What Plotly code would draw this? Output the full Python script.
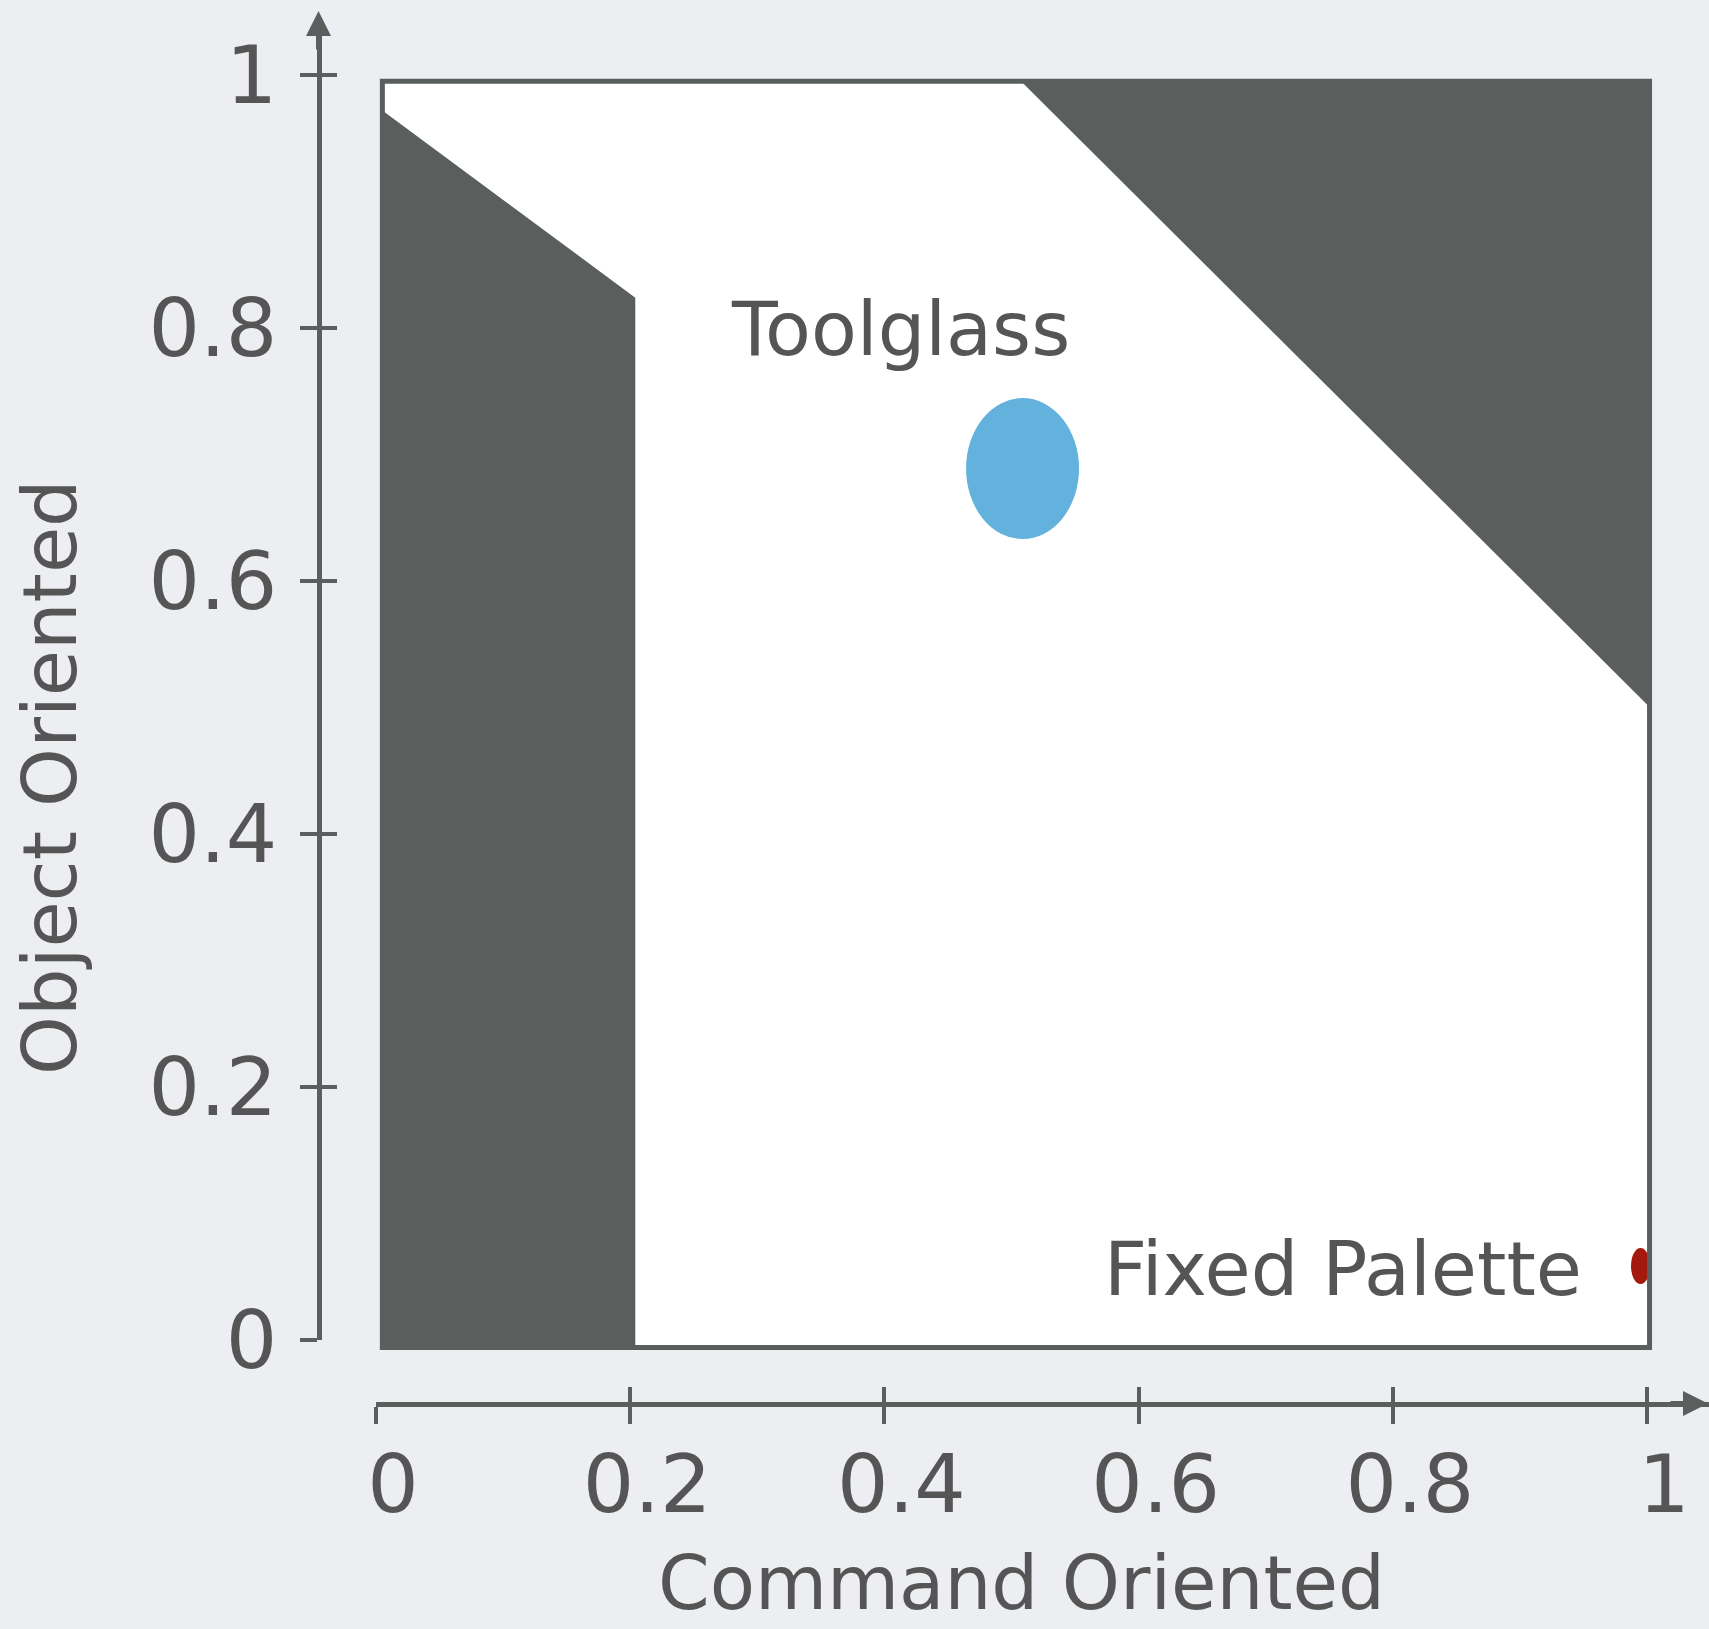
import plotly.graph_objects as go

# ---------------- data ----------------
# Design-space frame (Command Oriented on x, Object Oriented on y)
frame_x = [0.005, 1.002]
frame_y = [-0.006, 0.995]

# Dark "unreachable" regions
left_region_x = [0.005, 0.005, 0.204, 0.204]
left_region_y = [-0.006, 0.972, 0.824, -0.006]
top_region_x = [0.5075, 1.002, 1.002]
top_region_y = [0.995, 0.995, 0.5004]

# Techniques: centre and spread
techniques = ["Toolglass", "Fixed Palette"]
tech_x = [0.5087, 0.9949]
tech_y = [0.6889, 0.0585]
tech_spread_x = [0.0889, 0.0150]
tech_spread_y = [0.1115, 0.0285]

# Axis ticks
tick_vals = [0, 0.2, 0.4, 0.6, 0.8, 1]
tick_text = ["0", "0.2", "0.4", "0.6", "0.8", "1"]

x_title = "Command Oriented"
y_title = "Object Oriented"

# ---------------- styling / layout ----------------
W, H = 1709, 1629
X0_PX, X_SCALE = 376.0, 1271.0   # pixel of x=0, px per unit
Y0_PX, Y_SCALE = 1340.0, 1265.0  # pixel of y=0, px per unit

DARK = "#5a5e5d"
TEXT = "#555555"
BG = "#eceef1"
FONT = "DejaVu Sans"
tech_colors = ["#63b2dd", "#a31a0c"]
label_pos = [(0.4127, 0.7996), (0.7608, 0.0561)]


def px_to_paper_x(px):
    return px / W


def px_to_paper_y(py):
    return 1 - py / H


fig = go.Figure()

# dummy traces so the data subplot and the axis subplots exist
fig.add_trace(go.Scatter(x=[None], y=[None], showlegend=False, hoverinfo="skip"))
fig.add_trace(go.Scatter(x=[None], y=[None], xaxis="x2", yaxis="y2",
                         showlegend=False, hoverinfo="skip"))
fig.add_trace(go.Scatter(x=[None], y=[None], xaxis="x3", yaxis="y3",
                         showlegend=False, hoverinfo="skip"))


def poly_path(xs, ys):
    pts = " L ".join(f"{a},{b}" for a, b in zip(xs, ys))
    return "M " + pts + " Z"


shapes = []
# white frame fill
shapes.append(dict(type="rect", xref="x", yref="y",
                   x0=frame_x[0], x1=frame_x[1], y0=frame_y[0], y1=frame_y[1],
                   fillcolor="white", line=dict(width=0), layer="above"))
# dark regions
shapes.append(dict(type="path", xref="x", yref="y",
                   path=poly_path(left_region_x, left_region_y),
                   fillcolor=DARK, line=dict(width=0), layer="above"))
shapes.append(dict(type="path", xref="x", yref="y",
                   path=poly_path(top_region_x, top_region_y),
                   fillcolor=DARK, line=dict(width=0), layer="above"))
# technique ellipses
for cx, cy, sx, sy, col in zip(tech_x, tech_y, tech_spread_x, tech_spread_y, tech_colors):
    shapes.append(dict(type="circle", xref="x", yref="y",
                       x0=cx - sx / 2, x1=cx + sx / 2, y0=cy - sy / 2, y1=cy + sy / 2,
                       fillcolor=col, line=dict(width=0), layer="above"))
# frame outline
shapes.append(dict(type="rect", xref="x", yref="y",
                   x0=frame_x[0], x1=frame_x[1], y0=frame_y[0], y1=frame_y[1],
                   fillcolor="rgba(0,0,0,0)", line=dict(color=DARK, width=5),
                   layer="above"))

annotations = []
for name, (lx, ly) in zip(techniques, label_pos):
    annotations.append(dict(xref="x", yref="y", x=lx, y=ly, text=name,
                            showarrow=False, xanchor="center", yanchor="middle",
                            font=dict(family=FONT, size=75, color=TEXT)))

# axis titles
annotations.append(dict(xref="paper", yref="paper",
                        x=px_to_paper_x(1021), y=px_to_paper_y(1583), text=x_title,
                        showarrow=False, xanchor="center", yanchor="middle",
                        font=dict(family=FONT, size=74, color=TEXT)))
annotations.append(dict(xref="paper", yref="paper",
                        x=px_to_paper_x(50), y=px_to_paper_y(777), text=y_title,
                        textangle=-90, showarrow=False, xanchor="center", yanchor="middle",
                        font=dict(family=FONT, size=75, color=TEXT)))

# arrow heads for the axes
annotations.append(dict(xref="paper", yref="paper",
                        x=px_to_paper_x(318.5), y=px_to_paper_y(11), ax=0, ay=40,
                        text="", showarrow=True, arrowhead=2, arrowsize=1.0,
                        arrowwidth=5, arrowcolor=DARK))
annotations.append(dict(xref="paper", yref="paper",
                        x=px_to_paper_x(1709), y=px_to_paper_y(1403.5), ax=-40, ay=0,
                        text="", showarrow=True, arrowhead=2, arrowsize=1.0,
                        arrowwidth=5, arrowcolor=DARK))

hidden = dict(visible=False, showgrid=False, zeroline=False, automargin=False)

x_range_end = (W - X0_PX) / X_SCALE
y_dom_top_px = 35
y_range_end = (Y0_PX - y_dom_top_px) / Y_SCALE

common_x = dict(domain=[px_to_paper_x(X0_PX), 1], range=[0, x_range_end],
                anchor="free", position=px_to_paper_y(1403.5), side="bottom",
                tickmode="array", tickvals=tick_vals, ticktext=tick_text,
                showgrid=False, zeroline=False, ticklen=17, tickwidth=4,
                tickcolor=DARK, fixedrange=True, automargin=False)
common_y = dict(domain=[px_to_paper_y(Y0_PX), px_to_paper_y(y_dom_top_px)],
                range=[0, y_range_end],
                anchor="free", position=px_to_paper_x(318.5), side="left",
                tickmode="array", tickvals=tick_vals, ticktext=tick_text,
                showgrid=False, zeroline=False, ticklen=17, tickwidth=4,
                tickcolor=DARK, fixedrange=True, automargin=False)

fig.update_layout(
    template="none",
    width=W, height=H, autosize=False,
    margin=dict(l=0, r=0, t=0, b=0, pad=0, autoexpand=False),
    paper_bgcolor=BG, plot_bgcolor="rgba(0,0,0,0)",
    showlegend=False,
    font=dict(family=FONT, color=TEXT),
    xaxis=dict(domain=[0, 1], range=[-X0_PX / X_SCALE, (W - X0_PX) / X_SCALE], **hidden),
    yaxis=dict(domain=[0, 1], range=[(Y0_PX - H) / Y_SCALE, Y0_PX / Y_SCALE], **hidden),
    xaxis2=dict(**common_x, showline=True, linecolor=DARK, linewidth=5,
                ticks="outside", showticklabels=True,
                tickfont=dict(family=FONT, size=81, color=TEXT),
                ticklabelshift=17, ticklabelstandoff=-9),
    yaxis2=dict(**common_y, showline=True, linecolor=DARK, linewidth=5,
                ticks="outside", showticklabels=True,
                tickfont=dict(family=FONT, size=81, color=TEXT),
                ticklabelstandoff=6),
    xaxis3=dict(**common_x, showline=False, ticks="inside", showticklabels=False),
    yaxis3=dict(**common_y, showline=False, ticks="inside", showticklabels=False),
    shapes=shapes,
    annotations=annotations,
)

fig.write_html("out.html",
               config={"displayModeBar": False, "responsive": False},
               post_script="document.body.style.margin='0px';"
                           "document.documentElement.style.overflow='hidden';")
